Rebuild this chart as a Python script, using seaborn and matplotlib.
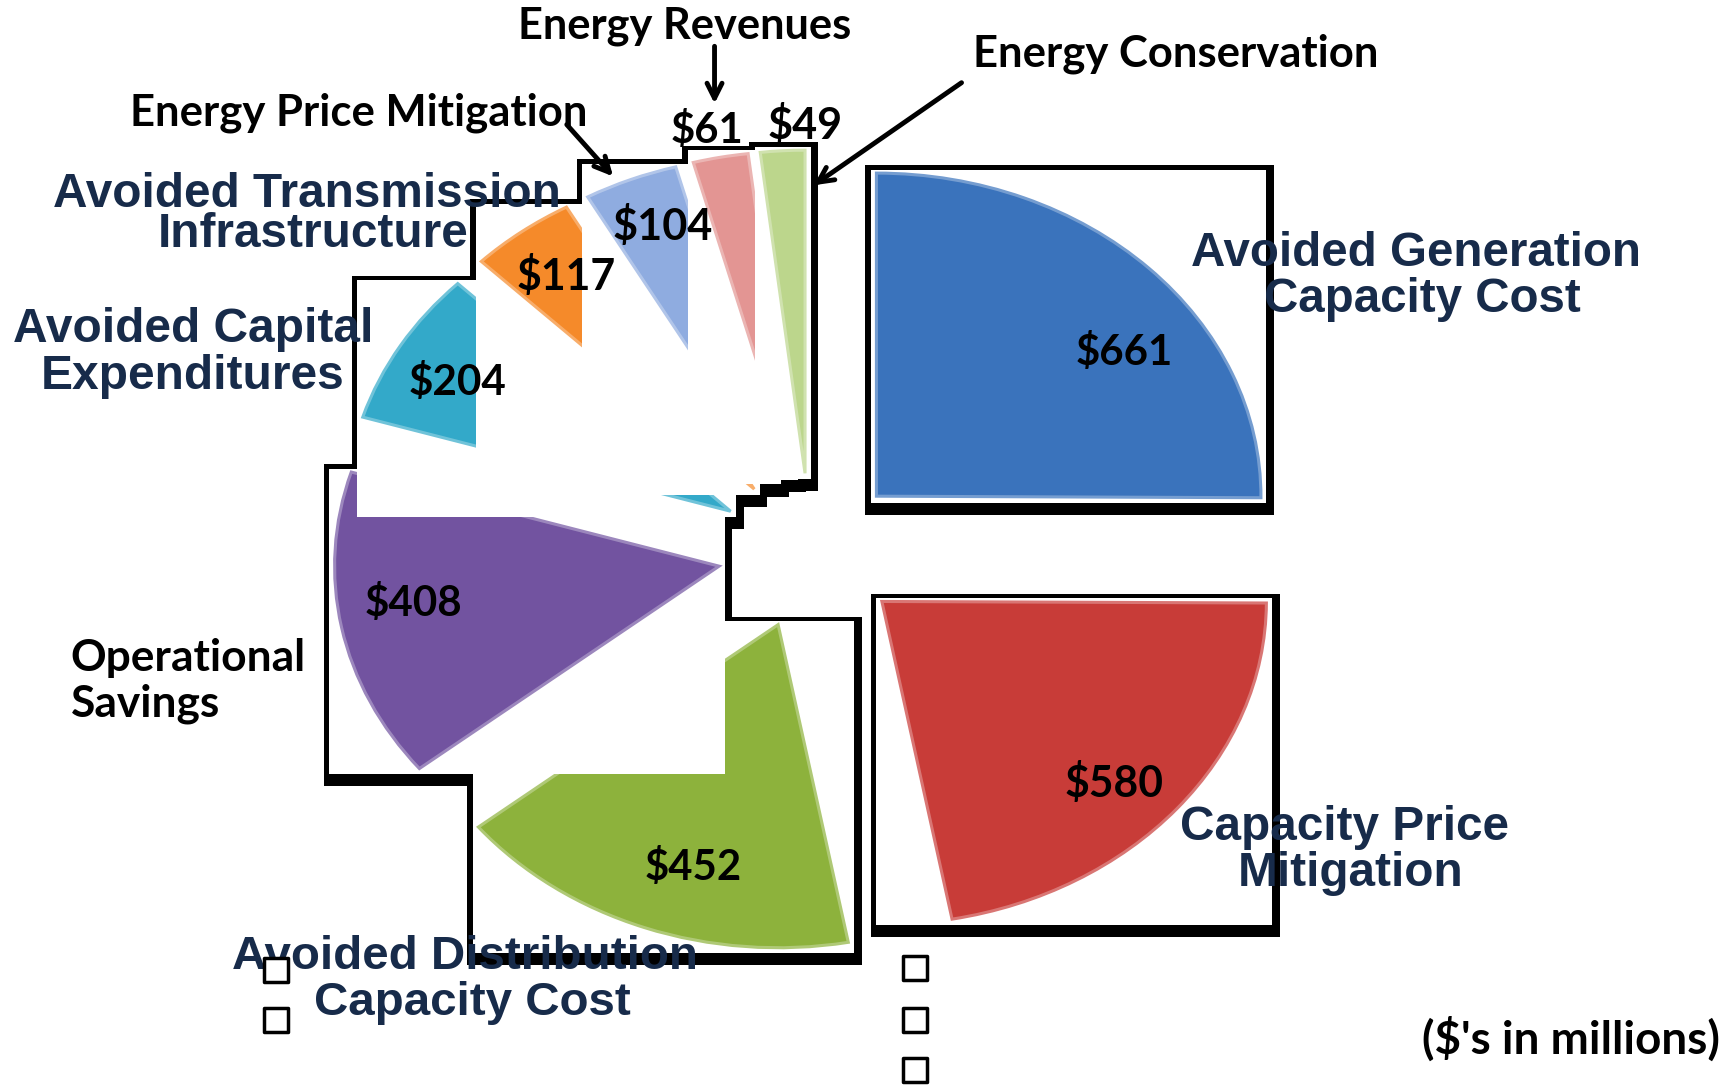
import numpy as np
import matplotlib
matplotlib.use("Agg")
import matplotlib.pyplot as plt
import seaborn as sns
from matplotlib.patches import Rectangle

# ---------------- data ----------------
categories = ["Avoided Generation Capacity Cost", "Capacity Price Mitigation",
              "Avoided Distribution Capacity Cost", "Operational Savings",
              "Avoided Capital Expenditures", "Avoided Transmission Infrastructure",
              "Energy Price Mitigation", "Energy Revenues", "Energy Conservation"]
values = [661, 580, 452, 408, 204, 117, 104, 61, 49]
value_labels = ["$661", "$580", "$452", "$408", "$204", "$117", "$104", "$61", "$49"]
colors = ["#3A73BC", "#C83C38", "#8DB23C", "#7253A0", "#33A9C9",
          "#F58A2A", "#8FACE0", "#E39593", "#BCD68C"]

sns.set_theme(style="white")
VAL_FONT = ["Lato", "DejaVu Sans"]
CAT_FONT = ["Liberation Sans Narrow", "Liberation Sans", "DejaVu Sans"]
plt.rcParams['font.family'] = VAL_FONT

W, H = 1729, 1085
S = W / 1568.0                      # reference-display -> output pixel scale
CX, CY, RX, RY = 735.0, 500.0, 348.7, 293.0   # pie centre / radii in display px

fig = plt.figure(figsize=(W / 100, H / 100), dpi=100)
fig.patch.set_facecolor("white")
ax = fig.add_axes([0, 0, 1, 1])

wedges, _ = ax.pie(values, colors=colors, startangle=90, counterclock=False,
                   explode=[0.242] * len(values), radius=1, center=(0, 0),
                   wedgeprops=dict(linewidth=2.2), frame=False)
ax.set_aspect("auto")
ax.set_xlim(-CX * S / (RX * S), (W - CX * S) / (RX * S))
ax.set_ylim(-(H - CY * S) / (RY * S), CY * S / (RY * S))
ax.axis("off")


def to_data(x, y):
    return (x - CX) / RX, (CY - y) / RY


PX, PY = 1.0 / RX, 1.0 / RY


def wedge_box(w):
    cx, cy = w.center
    t = np.radians(np.linspace(w.theta1, w.theta2, 300))
    xs = np.concatenate([[cx], cx + w.r * np.cos(t)])
    ys = np.concatenate([[cy], cy + w.r * np.sin(t)])
    return xs.min(), xs.max(), ys.min(), ys.max()


def lighter(c, f=0.3):
    r, g, b = matplotlib.colors.to_rgb(c)
    return (r + (1 - r) * f, g + (1 - g) * f, b + (1 - b) * f)


z = 2
for group in ([0], [1], [2, 3, 4, 5, 6, 7, 8]):
    boxes = []
    for i in group:
        x0, x1, y0, y1 = wedge_box(wedges[i])
        ix0, ix1, iy0, iy1 = x0 - 5 * PX, x1 + 5 * PX, y0 - 5 * PY, y1 + 3 * PY
        boxes.append((ix0, ix1, iy0, iy1))
        ox0, ox1, oy0, oy1 = ix0 - 5 * PX, ix1 + 7 * PX, iy0 - 11 * PY, iy1 + 4 * PY
        ax.add_patch(Rectangle((ox0, oy0), ox1 - ox0, oy1 - oy0, facecolor="black",
                               edgecolor="none", zorder=1))
    for i, (ix0, ix1, iy0, iy1) in zip(group, boxes):
        ax.add_patch(Rectangle((ix0, iy0), ix1 - ix0, iy1 - iy0, facecolor="white",
                               edgecolor="none", zorder=z))
        wedges[i].set_zorder(z + 1)
        wedges[i].set_edgecolor(lighter(colors[i]))
        z += 2

fig.canvas.draw()
renderer = fig.canvas.get_renderer()


def put(s, x, y, width=None, fs=None, color="black", family=VAL_FONT, ha="center"):
    X, Y = to_data(x, y)
    t = ax.text(X, Y, s, ha=ha, va="center", color=color, family=family,
                weight="bold", fontsize=fs or 20, zorder=60)
    if width is not None:
        bb = t.get_window_extent(renderer)
        fs = 20 * width * S / bb.width
        t.set_fontsize(fs)
    return fs


NAVY = "#172B4A"
# black callout labels
put("Energy Revenues", 621, 24, width=302)
put("Energy Price Mitigation", 325, 102, width=415)
put("Energy Conservation", 1066, 49, width=368)
put("($'s in millions)", 1560, 942, width=270, ha="right")
f = put("Operational", 64, 597, width=213, ha="left")
put("Savings", 64, 638, fs=f, ha="left")

# navy category labels
f = put("Avoided Transmission", 278, 176, width=460, color=NAVY, family=CAT_FONT)
put("Infrastructure", 284, 213, fs=f, color=NAVY, family=CAT_FONT)
f = put("Avoided Capital", 175, 299, width=326, color=NAVY, family=CAT_FONT)
put("Expenditures", 175, 341, fs=f, color=NAVY, family=CAT_FONT)
f = put("Avoided Distribution", 422, 868, width=421, color=NAVY, family=CAT_FONT)
put("Capacity Cost", 428, 910, fs=f, color=NAVY, family=CAT_FONT)
f = put("Avoided Generation", 1284, 230, width=408, color=NAVY, family=CAT_FONT)
put("Capacity Cost", 1290, 272, fs=f, color=NAVY, family=CAT_FONT)
f = put("Capacity Price", 1219, 750, width=298, color=NAVY, family=CAT_FONT)
put("Mitigation", 1225, 792, fs=f, color=NAVY, family=CAT_FONT)

# value labels
val_pos = [(1020, 320), (1010, 710), (629, 787), (375, 547), (415, 347),
           (513, 250), (601, 205), (641, 118), (730, 113)]
val_w = [88, 90, 88, 89, 89, 90, 91, 66, 68]
for lab, (x, y), w in zip(value_labels, val_pos, val_w):
    put(lab, x, y, width=w)

# arrows
arrows = [((648, 42), (648, 94)), ((514, 113), (556, 160)), ((872, 75), (738, 168))]
for (x0, y0), (x1, y1) in arrows:
    ax.annotate("", xy=to_data(x1, y1), xytext=to_data(x0, y0),
                arrowprops=dict(arrowstyle="->,head_length=0.9,head_width=0.45",
                                lw=3.5, color="black", shrinkA=0, shrinkB=0),
                zorder=70)

# leftover empty legend markers
sq = [(250, 880), (250, 925), (830, 878), (830, 925), (830, 970)]
sx, sy = zip(*[to_data(x, y) for x, y in sq])
ax.scatter(sx, sy, marker="s", s=300, facecolor="white", edgecolor="black",
           linewidth=2.5, zorder=65)

fig.savefig("out.png", dpi=100, facecolor="white")
